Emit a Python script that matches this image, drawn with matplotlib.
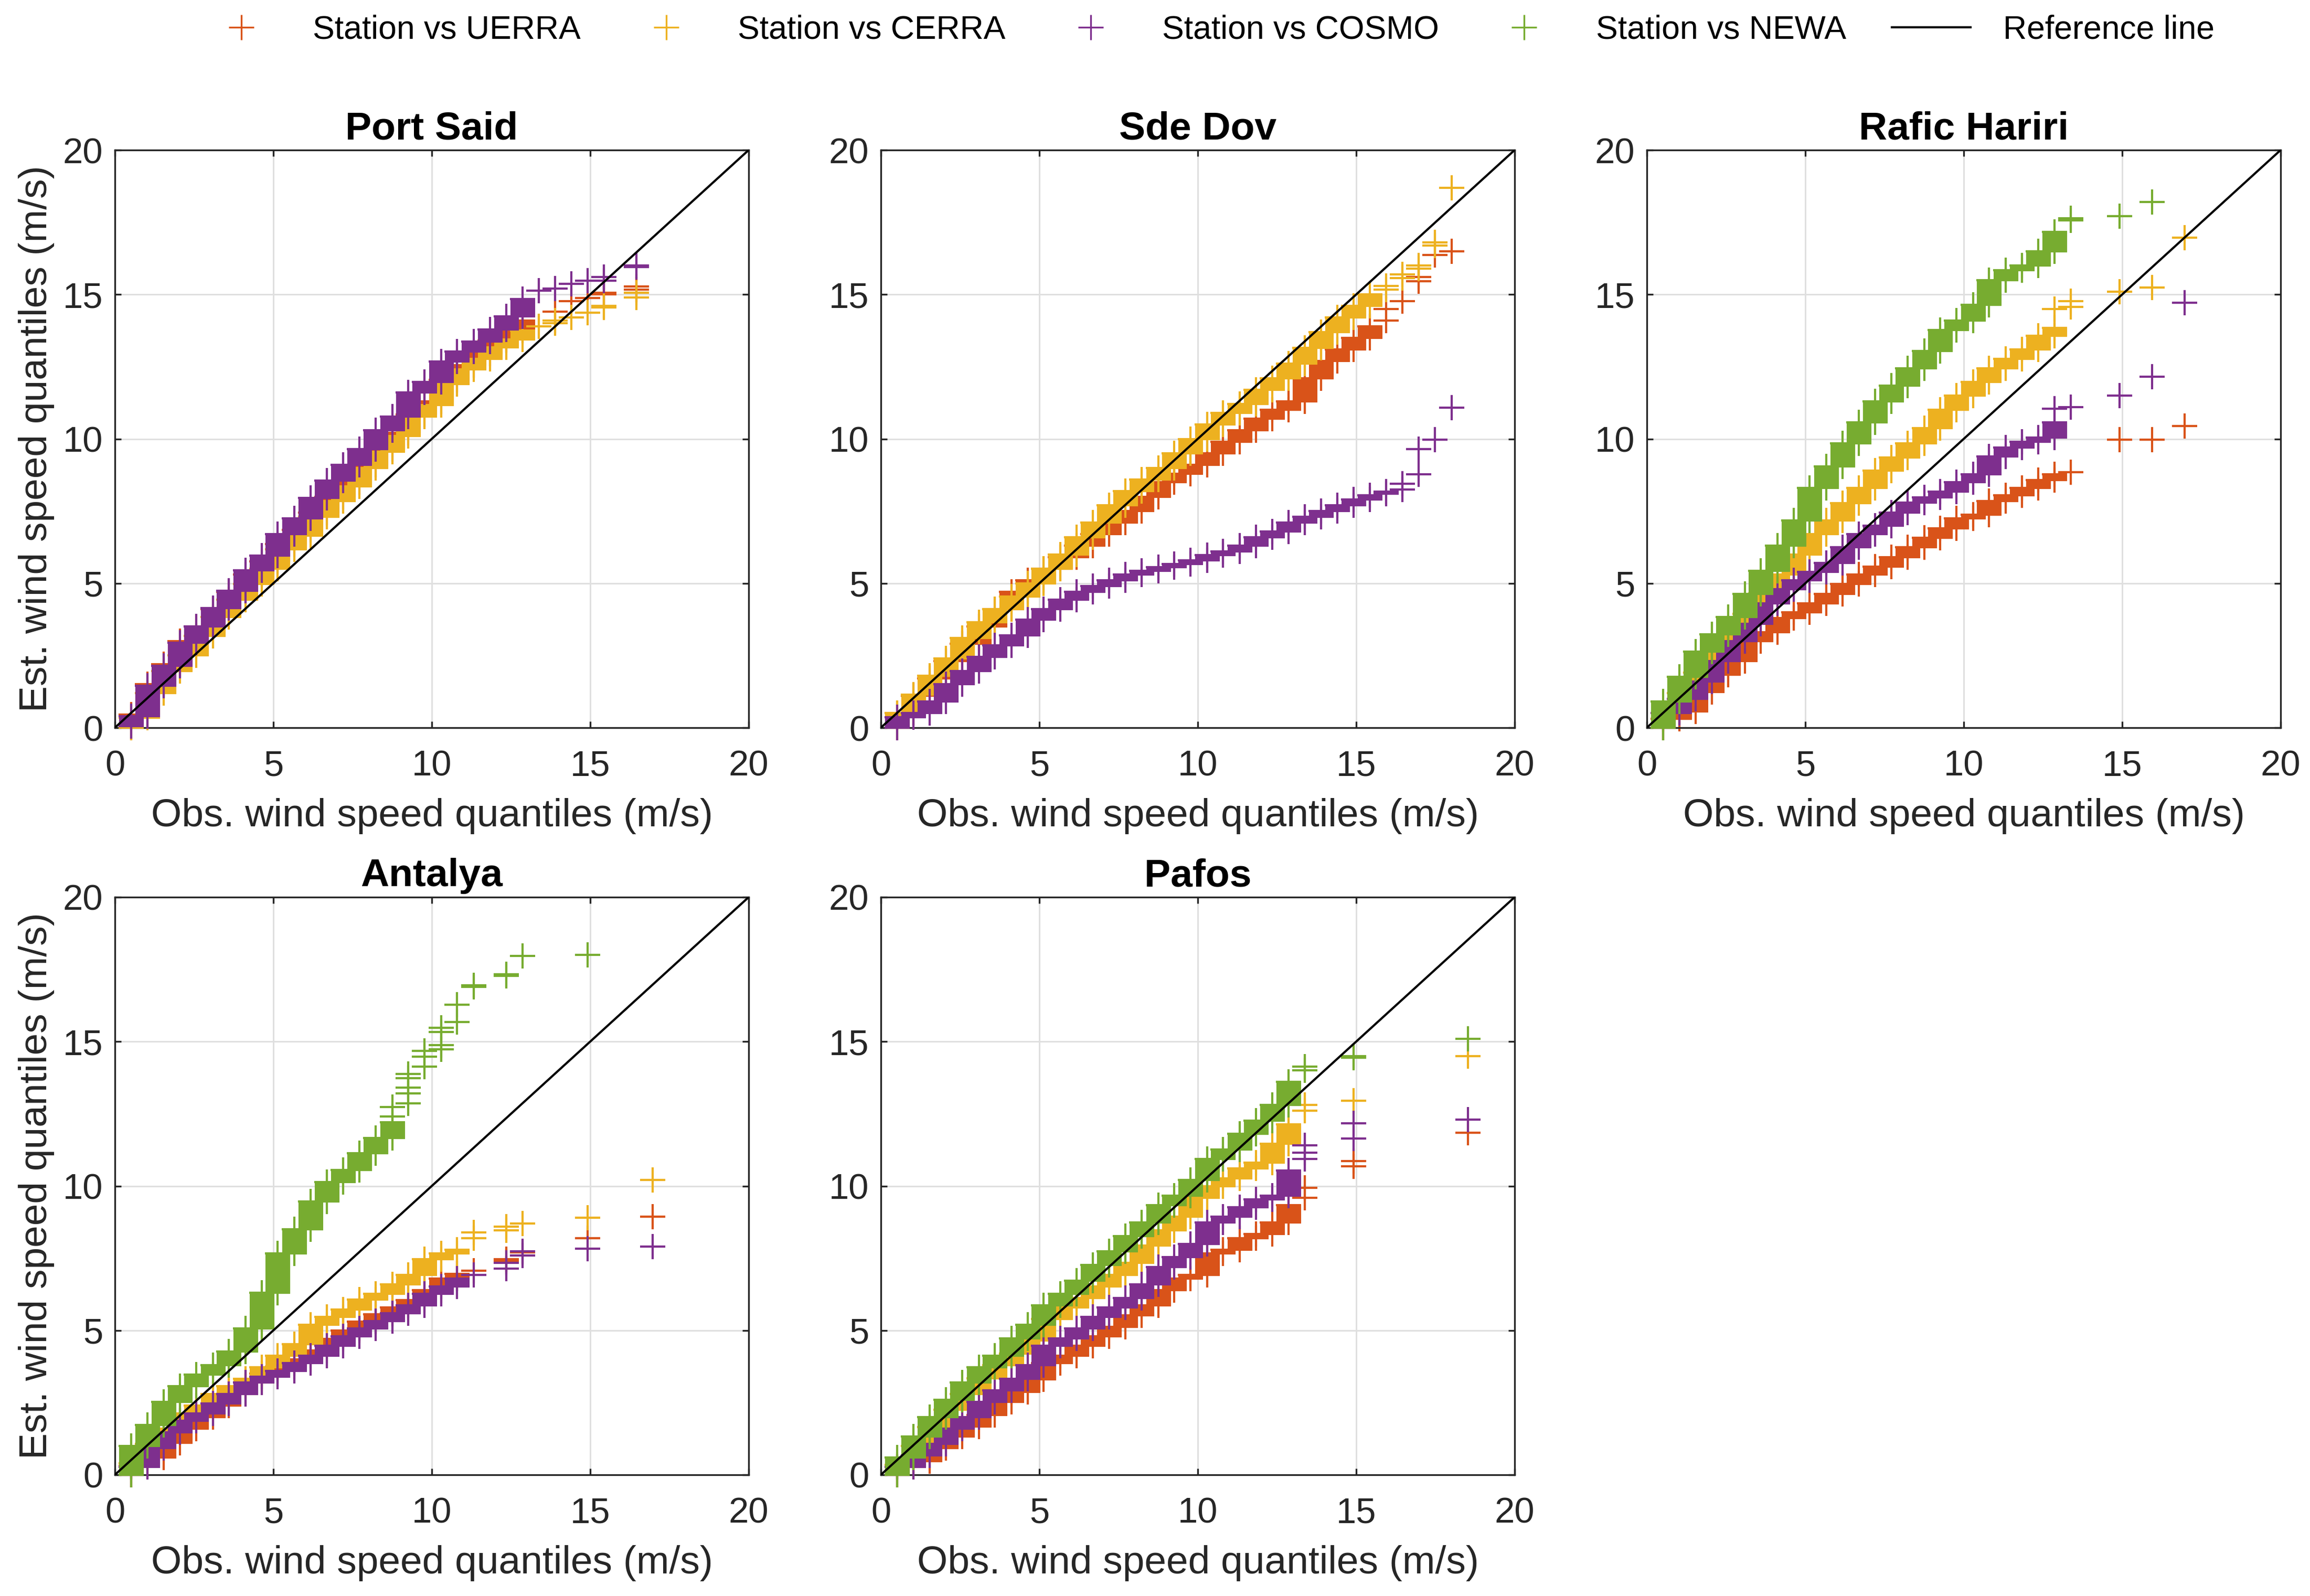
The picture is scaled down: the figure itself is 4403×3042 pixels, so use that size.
import numpy as np
import matplotlib
matplotlib.use("Agg")
import matplotlib.pyplot as plt
from matplotlib.lines import Line2D

plt.rcParams['font.family'] = ['Liberation Sans', 'DejaVu Sans']

# ---------------- data ----------------
# observed wind-speed quantile steps (m/s, station data resolved in knots)
OBS = [0.51, 1.03, 1.54, 2.06, 2.57, 3.09, 3.60, 4.12, 4.63, 5.14, 5.66, 6.17,
       6.69, 7.20, 7.72, 8.23, 8.75, 9.26, 9.77, 10.29, 10.80, 11.32, 11.83,
       12.35, 12.86, 13.38, 13.89, 14.40, 14.92, 15.43, 15.95, 16.46, 16.97,
       17.49, 18.01, 18.52]

STATIONS = ["Port Said", "Sde Dov", "Rafic Hariri", "Antalya", "Pafos"]
MODELS = ["UERRA", "CERRA", "COSMO", "NEWA"]
COLORS = ["#D95319", "#EDB120", "#7E2F8E", "#77AC30"]

# estimated quantiles at the edges of each observed step (dense part),
# plus isolated upper-tail quantile points (obs, est)
# --- Port Said ---
ps_uerra_edges = [0.0, 0.45, 1.5, 2.2, 3.0, 3.5, 4.1, 4.7, 5.3, 5.75, 6.35, 6.85, 7.45, 8.0,
                  8.5, 9.1, 9.65, 10.2, 10.85, 11.3, 12.05, 12.55, 12.95, 13.4, 13.75, 14.1]
ps_uerra_tx = [13.89, 14.40, 14.92, 15.43, 15.43, 16.46, 16.46]
ps_uerra_ty = [14.4, 14.77, 14.88, 15.0, 15.05, 15.17, 15.27]
ps_cerra_edges = [0.0, 0.35, 1.2, 1.97, 2.5, 3.17, 3.84, 4.44, 4.97, 5.5, 6.17, 6.65, 7.3, 7.85,
                  8.35, 9.0, 9.55, 10.1, 10.77, 11.17, 11.9, 12.4, 12.77, 13.17, 13.44, 13.75]
ps_cerra_tx = [13.38, 13.89, 13.89, 14.40, 14.92, 15.43, 15.43, 16.46, 16.46]
ps_cerra_ty = [13.9, 14.0, 14.1, 14.2, 14.37, 14.55, 14.6, 14.9, 15.05]
ps_cosmo_edges = [0.05, 0.4, 1.45, 2.15, 2.95, 3.5, 4.15, 4.75, 5.45, 5.95, 6.7, 7.25, 7.95, 8.55,
                  9.1, 9.65, 10.3, 10.77, 11.6, 11.97, 12.68, 13.02, 13.37, 13.78, 14.24, 14.84]
ps_cosmo_tx = [13.38, 13.89, 14.40, 14.92, 15.43, 15.43, 16.46, 16.46]
ps_cosmo_ty = [15.13, 15.2, 15.37, 15.47, 15.47, 15.6, 15.95, 16.0]

# --- Sde Dov ---
sd_uerra_edges = [0.0, 0.5, 1.1, 1.7, 2.3, 2.9, 3.5, 4.1, 4.7, 5.1, 5.5, 5.9, 6.3, 6.7, 7.1, 7.5,
                  8.0, 8.5, 8.8, 9.1, 9.5, 9.9, 10.3, 10.7, 11.0, 11.3, 12.1, 12.7, 13.1, 13.5, 13.9]
sd_uerra_tx = [15.95, 15.95, 16.46, 16.97, 16.97, 17.49, 18.01]
sd_uerra_ty = [14.1, 14.5, 14.77, 15.45, 15.6, 16.37, 16.5]
sd_cerra_edges = [0.0, 0.5, 1.15, 1.8, 2.4, 3.1, 3.65, 4.1, 4.55, 5.0, 5.5, 6.0, 6.6, 7.1, 7.7,
                  8.2, 8.6, 9.0, 9.5, 10.0, 10.5, 10.9, 11.2, 11.7, 12.1, 12.6, 13.15, 13.7, 14.2,
                  14.6, 15.0]
sd_cerra_tx = [15.95, 15.95, 16.46, 16.46, 16.97, 16.97, 17.49, 17.49, 18.01]
sd_cerra_ty = [15.17, 15.3, 15.57, 15.7, 15.9, 16.0, 16.7, 16.8, 18.7]
sd_cosmo_edges = [0.0, 0.37, 0.5, 0.9, 1.5, 1.97, 2.45, 2.85, 3.2, 3.75, 4.1, 4.44, 4.7, 4.9, 5.1,
                  5.3, 5.44, 5.55, 5.66, 5.8, 5.97, 6.1, 6.3, 6.6, 6.8, 7.1, 7.3, 7.5, 7.7, 7.9, 8.04]
sd_cosmo_tx = [15.95, 15.95, 16.46, 16.46, 16.97, 16.97, 17.49, 18.01]
sd_cosmo_ty = [8.1, 8.17, 8.24, 8.44, 8.77, 9.64, 9.97, 11.08]

# --- Rafic Hariri ---
rh_uerra_edges = [0.0, 0.3, 0.57, 1.24, 1.84, 2.3, 3.0, 3.3, 3.8, 4.0, 4.3, 4.64, 4.97, 5.3, 5.57,
                  5.9, 6.24, 6.57, 6.9, 7.24, 7.37, 7.84, 8.04, 8.3, 8.57, 8.77]
rh_uerra_tx = [13.38, 14.92, 15.95, 16.97]
rh_uerra_ty = [8.84, 9.97, 9.97, 10.44]
rh_cerra_edges = [0.0, 0.5, 1.2, 1.9, 2.6, 3.2, 3.95, 4.65, 5.3, 6.0, 6.7, 7.17, 7.77, 8.3, 8.9,
                  9.35, 9.84, 10.37, 11.0, 11.5, 11.97, 12.44, 12.77, 13.1, 13.57, 13.84]
rh_cerra_tx = [12.86, 13.38, 13.38, 14.92, 15.95, 16.97]
rh_cerra_ty = [14.5, 14.57, 14.77, 15.1, 15.24, 16.97]
rh_cosmo_edges = [0.0, 0.5, 1.0, 1.6, 2.3, 3.0, 3.6, 4.3, 4.8, 5.1, 5.4, 5.7, 6.25, 6.7, 7.0,
                  7.45, 7.8, 7.97, 8.17, 8.5, 8.77, 9.4, 9.7, 9.9, 10.05, 10.57]
rh_cosmo_tx = [12.86, 13.38, 14.92, 15.95, 16.97]
rh_cosmo_ty = [11.04, 11.1, 11.5, 12.15, 14.71]
rh_newa_edges = [0.0, 0.9, 1.77, 2.64, 3.24, 3.84, 4.64, 5.44, 6.3, 7.17, 8.3, 9.04, 9.84, 10.57,
                 11.3, 11.84, 12.44, 13.04, 13.77, 14.1, 14.64, 15.5, 15.84, 16.0, 16.5, 17.17]
rh_newa_tx = [13.38, 13.38, 14.92, 15.95]
rh_newa_ty = [17.57, 17.64, 17.71, 18.2]

# --- Antalya ---
an_uerra_edges = [0.0, 0.3, 0.6, 1.1, 1.6, 2.0, 2.4, 2.8, 3.2, 3.5, 3.75, 4.0, 4.3, 4.7, 5.0, 5.3,
                  5.55, 5.8, 6.05, 6.4, 6.8, 6.95]
an_uerra_tx = [11.32, 12.35, 12.35, 12.86, 14.92, 16.97]
an_uerra_ty = [7.07, 7.4, 7.47, 7.7, 8.2, 8.93]
an_cerra_edges = [0.0, 0.4, 1.07, 1.6, 2.13, 2.4, 2.8, 3.07, 3.33, 3.73, 4.13, 4.53, 5.2, 5.47,
                  5.73, 6.07, 6.27, 6.6, 6.93, 7.47, 7.67, 7.8]
an_cerra_tx = [11.32, 11.32, 12.35, 12.35, 12.86, 14.92, 16.97]
an_cerra_ty = [8.2, 8.4, 8.47, 8.6, 8.7, 8.9, 10.2]
an_cosmo_edges = [0.0, 0.27, 0.93, 1.47, 1.87, 2.13, 2.47, 2.8, 3.2, 3.4, 3.6, 3.87, 4.13, 4.47,
                  4.8, 5.07, 5.33, 5.6, 5.87, 6.27, 6.53, 6.8]
an_cosmo_tx = [11.32, 12.35, 12.35, 12.86, 12.86, 14.92, 16.97]
an_cosmo_ty = [6.93, 7.13, 7.33, 7.6, 7.73, 7.83, 7.9]
an_newa_edges = [0.0, 1.0, 1.73, 2.53, 3.07, 3.47, 3.8, 4.27, 5.07, 6.3, 7.67, 8.5, 9.47, 10.13,
                 10.55, 11.13, 11.67, 12.2]
an_newa_tx = [8.75, 8.75, 9.26, 9.26, 9.26, 9.26, 9.26, 9.77, 9.77, 9.77, 10.29, 10.29, 10.29,
              10.29, 10.80, 10.80, 11.32, 11.32, 12.35, 12.35, 12.86, 14.92]
an_newa_ty = [12.4, 12.73, 12.87, 13.2, 13.4, 13.73, 13.87, 14.13, 14.47, 14.67, 14.73, 14.87,
              15.33, 15.47, 15.67, 16.27, 16.9, 16.95, 17.27, 17.33, 17.96, 18.0]

# --- Pafos ---
pa_uerra_edges = [0.0, 0.27, 0.47, 0.93, 1.33, 1.67, 2.07, 2.53, 2.87, 3.3, 3.87, 4.13, 4.47, 4.8,
                  5.13, 5.53, 5.87, 6.4, 6.8, 6.93, 7.67, 7.8, 8.2, 8.33, 8.73, 9.33]
pa_uerra_tx = [13.38, 13.38, 14.92, 14.92, 18.52]
pa_uerra_ty = [9.6, 9.93, 10.69, 10.87, 11.84]
pa_cerra_edges = [0.0, 0.35, 1.0, 1.65, 2.25, 2.8, 3.35, 3.8, 4.2, 4.65, 5.4, 5.8, 6.13, 6.53,
                  6.93, 7.33, 7.93, 8.47, 8.93, 9.6, 10.0, 10.27, 10.6, 10.8, 11.47, 12.13]
pa_cerra_tx = [13.38, 13.38, 14.92, 18.52]
pa_cerra_ty = [12.6, 12.8, 12.96, 14.5]
pa_cosmo_edges = [0.0, 0.27, 0.67, 1.07, 1.6, 2.0, 2.53, 2.93, 3.33, 3.8, 4.47, 4.73, 5.07, 5.47,
                  5.8, 6.13, 6.6, 7.2, 7.53, 8.0, 8.73, 8.93, 9.27, 9.53, 9.67, 10.53]
pa_cosmo_tx = [13.38, 13.38, 13.38, 14.92, 14.92, 18.52]
pa_cosmo_ty = [10.93, 11.15, 11.4, 11.65, 12.17, 12.3]
pa_newa_edges = [0.0, 0.6, 1.33, 2.0, 2.6, 3.2, 3.73, 4.13, 4.73, 5.2, 5.87, 6.27, 6.73, 7.27,
                 7.73, 8.27, 8.73, 9.33, 9.67, 10.2, 10.93, 11.27, 11.8, 12.27, 12.8, 13.6]
pa_newa_tx = [13.38, 13.38, 14.92, 14.92, 18.52]
pa_newa_ty = [14.0, 14.13, 14.45, 14.5, 15.1]

TICKS = [0, 5, 10, 15, 20]

# table built from the named arrays: station -> list of (model index, edges, tail x, tail y)
panels = {
    "Port Said": [(0, ps_uerra_edges, ps_uerra_tx, ps_uerra_ty),
                  (1, ps_cerra_edges, ps_cerra_tx, ps_cerra_ty),
                  (2, ps_cosmo_edges, ps_cosmo_tx, ps_cosmo_ty)],
    "Sde Dov": [(0, sd_uerra_edges, sd_uerra_tx, sd_uerra_ty),
                (1, sd_cerra_edges, sd_cerra_tx, sd_cerra_ty),
                (2, sd_cosmo_edges, sd_cosmo_tx, sd_cosmo_ty)],
    "Rafic Hariri": [(0, rh_uerra_edges, rh_uerra_tx, rh_uerra_ty),
                     (1, rh_cerra_edges, rh_cerra_tx, rh_cerra_ty),
                     (2, rh_cosmo_edges, rh_cosmo_tx, rh_cosmo_ty),
                     (3, rh_newa_edges, rh_newa_tx, rh_newa_ty)],
    "Antalya": [(0, an_uerra_edges, an_uerra_tx, an_uerra_ty),
                (1, an_cerra_edges, an_cerra_tx, an_cerra_ty),
                (2, an_cosmo_edges, an_cosmo_tx, an_cosmo_ty),
                (3, an_newa_edges, an_newa_tx, an_newa_ty)],
    "Pafos": [(0, pa_uerra_edges, pa_uerra_tx, pa_uerra_ty),
              (1, pa_cerra_edges, pa_cerra_tx, pa_cerra_ty),
              (2, pa_cosmo_edges, pa_cosmo_tx, pa_cosmo_ty),
              (3, pa_newa_edges, pa_newa_tx, pa_newa_ty)],
}

# ---------------- figure ----------------
W, H = 4403, 3042
fig = plt.figure(figsize=(W / 300, H / 300), dpi=300)

col_left = [219 / W, 1679 / W, 3139 / W]
row_bottom = [1 - 1387 / H, 1 - 2811 / H]
aw, ah = 1208 / W, 1101 / H
positions = [(col_left[0], row_bottom[0]), (col_left[1], row_bottom[0]), (col_left[2], row_bottom[0]),
             (col_left[0], row_bottom[1]), (col_left[1], row_bottom[1])]

MS = 11.3
MEW = 1.0
AXC = "#262626"

for i, st in enumerate(STATIONS):
    l, b = positions[i]
    ax = fig.add_axes([l, b, aw, ah])
    for (m, edges, tx, ty) in panels[st]:
        col = COLORS[m]
        z = 2 + m
        n = len(edges) - 1
        x = np.asarray(OBS[:n])
        e = np.asarray(edges)
        lc = ax.vlines(x, e[:-1], e[1:], colors=col, linewidth=MS, zorder=z)
        lc.set_capstyle('butt')
        ax.plot(np.concatenate([x, x]), np.concatenate([e[:-1], e[1:]]), ls='none',
                marker='+', ms=MS, mew=MEW, color=col, zorder=z, clip_on=False)
        ax.plot(tx, ty, ls='none', marker='+', ms=MS, mew=MEW, color=col, zorder=z,
                clip_on=False)
    ax.plot([0, 20], [0, 20], color='black', lw=1.0, zorder=10)

    ax.set_xlim(0, 20)
    ax.set_ylim(0, 20)
    ax.set_xticks(TICKS)
    ax.set_yticks(TICKS)
    ax.grid(True, color='#DFDFDF', lw=0.7, zorder=0)
    ax.set_axisbelow(True)
    for sp in ax.spines.values():
        sp.set_color(AXC)
        sp.set_linewidth(0.8)
    ax.tick_params(direction='in', length=2.9, width=0.8, colors=AXC, labelsize=16.5,
                   top=True, right=True)
    ax.tick_params(axis='x', pad=10.0)
    ax.tick_params(axis='y', pad=5.5)
    ax.set_title(st, fontsize=18, fontweight='bold', pad=5)
    ax.set_xlabel("Obs. wind speed quantiles (m/s)", fontsize=18, color=AXC)
    ax.xaxis.set_label_coords(0.5, -0.122)
    if i in (0, 3):
        ax.set_ylabel("Est. wind speed quantiles (m/s)", fontsize=18, color=AXC)
        ax.yaxis.set_label_coords(-0.095, 0.5)

handles = [Line2D([], [], ls='none', marker='+', ms=MS, mew=0.8, color=c) for c in COLORS]
handles.append(Line2D([], [], color='black', lw=1.0))
labels = ["Station vs " + m for m in MODELS] + ["Reference line"]
fig.legend(handles, labels, loc='center', bbox_to_anchor=(0.523, 1 - 57 / H), ncol=5,
           frameon=False, fontsize=15, handlelength=2.4, handletextpad=0.98,
           columnspacing=1.4, borderaxespad=0, borderpad=0)

fig.savefig("out.png", dpi=300, facecolor='white')
